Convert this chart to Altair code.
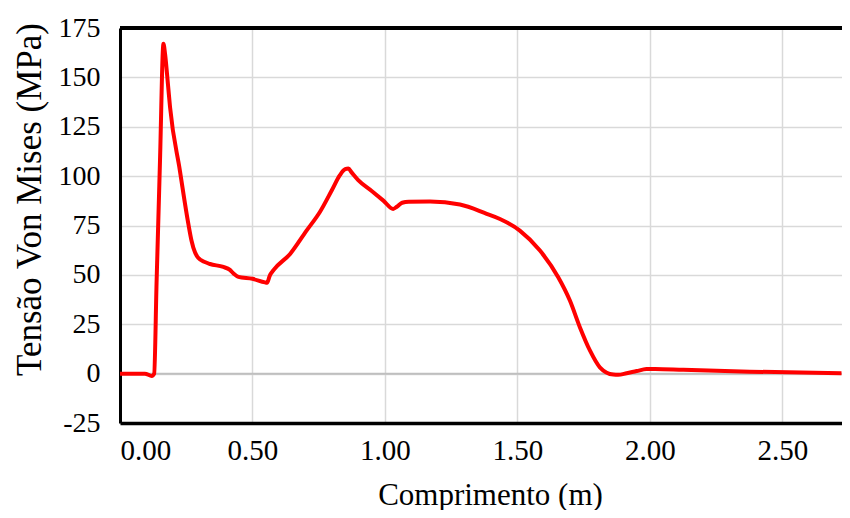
import altair as alt
import pandas as pd

x_vals = [0.0, 0.094, 0.12, 0.129, 0.138, 0.151, 0.164, 0.170, 0.182, 0.189, 0.226, 0.258,
          0.270, 0.283, 0.296, 0.320, 0.340, 0.390, 0.415, 0.430, 0.447, 0.500, 0.547, 0.555,
          0.565, 0.580, 0.642, 0.704, 0.755, 0.800, 0.830, 0.850, 0.862, 0.874, 0.899, 0.950,
          0.994, 1.031, 1.045, 1.065, 1.090, 1.170, 1.283, 1.384, 1.434, 1.509, 1.585, 1.654,
          1.698, 1.736, 1.774, 1.811, 1.862, 1.880, 1.912, 1.950, 1.987, 2.020, 2.126, 2.377, 2.723]
y_vals = [0.0, 0.0, -1.2, 0.0, 46.0, 108.0, 167.0, 162.0, 145.0, 134.8, 102.8, 75.8,
          67.3, 61.4, 58.5, 56.5, 55.5, 54.0, 52.5, 50.5, 49.0, 48.0, 46.2, 46.0,
          49.5, 52.5, 60.6, 72.4, 82.0, 93.0, 100.5, 103.5, 103.8, 101.9, 98.0, 92.5,
          87.6, 83.4, 84.5, 86.5, 87.0, 87.1, 85.6, 80.9, 78.3, 72.4, 62.3, 48.8,
          37.0, 23.4, 11.6, 3.2, -0.5, -0.6, 0.2, 1.3, 2.3, 2.4, 1.9, 1.0, 0.2]

x_ticks = [0.0, 0.5, 1.0, 1.5, 2.0, 2.5]
y_ticks = [-25, 0, 25, 50, 75, 100, 125, 150, 175]

df = pd.DataFrame({"x": x_vals, "y": y_vals})

FONT = "Liberation Serif"
xscale = alt.Scale(domain=[0, 2.725], nice=False, zero=False)
yscale = alt.Scale(domain=[-25, 175], nice=False, zero=False)

line = alt.Chart(df).mark_line(color="#ff0000", strokeWidth=4, interpolate="monotone").encode(
    x=alt.X("x:Q", scale=xscale, axis=alt.Axis(
        values=x_ticks, format=".2f", title="Comprimento (m)",
        grid=True, gridColor="#d9d9d9", gridWidth=1.5,
        domainColor="black", domainWidth=3.5, ticks=False,
        labelFont=FONT, labelFontSize=29, labelColor="black", labelPadding=13,
        titleFont=FONT, titleFontSize=31, titleFontWeight="normal", titleColor="black",
        titleX=370, titleY=72, titleBaseline="middle", titleAlign="center")),
    y=alt.Y("y:Q", scale=yscale, axis=alt.Axis(
        values=y_ticks, labelExpr="'' + datum.value", title="Tensão Von Mises (MPa)",
        grid=True, gridColor="#d9d9d9", gridWidth=1.5,
        domainColor="black", domainWidth=3, ticks=False,
        labelFont=FONT, labelFontSize=28, labelColor="black", labelPadding=20,
        titleFont=FONT, titleFontSize=35, titleFontWeight="normal", titleColor="black",
        titleX=-91, titleY=171, titleAngle=-90, titleBaseline="middle", titleAlign="center")),
)

zero = alt.Chart(pd.DataFrame({"v": [0]})).mark_rule(color="#bfbfbf", strokeWidth=2).encode(
    y=alt.Y("v:Q", scale=yscale))
top = alt.Chart(pd.DataFrame({"v": [175]})).mark_rule(color="black", strokeWidth=4).encode(
    y=alt.Y("v:Q", scale=yscale))

chart = alt.layer(zero, line, top).properties(
    width=722, height=395,
    autosize=alt.AutoSizeParams(type="none"),
    padding={"left": 112, "top": 20, "right": 0, "bottom": 87},
).configure_view(stroke=None)

chart.save("out.html", embed_options={"renderer": "svg", "actions": False})
